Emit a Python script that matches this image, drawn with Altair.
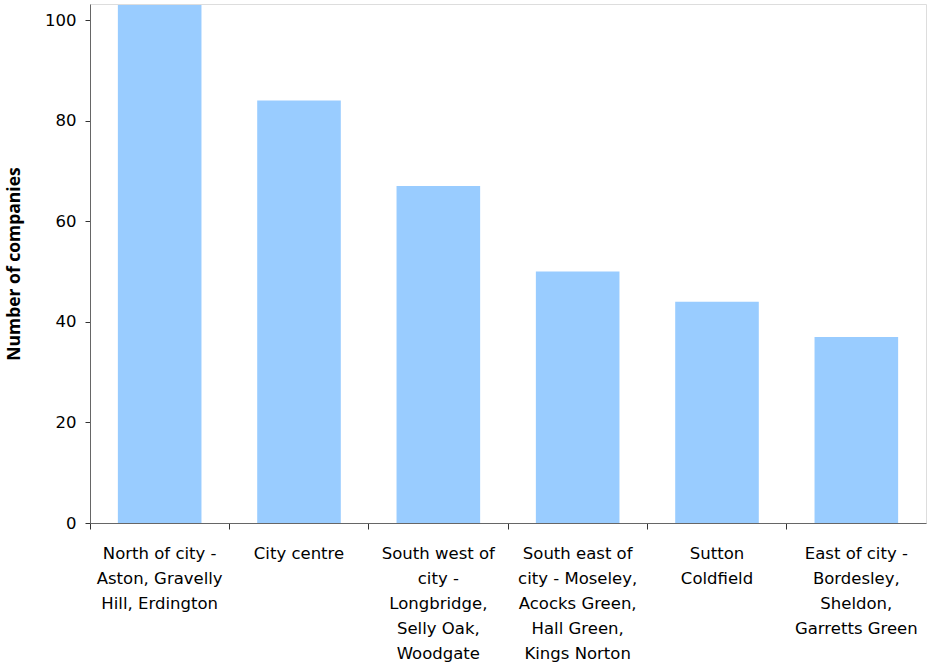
import altair as alt
import pandas as pd

# Companies by area of the city
areas = [
    "North of city -\nAston, Gravelly\nHill, Erdington",
    "City centre",
    "South west of\ncity -\nLongbridge,\nSelly Oak,\nWoodgate",
    "South east of\ncity - Moseley,\nAcocks Green,\nHall Green,\nKings Norton",
    "Sutton\nColdfield",
    "East of city -\nBordesley,\nSheldon,\nGarretts Green",
]
companies = [103, 84, 67, 50, 44, 37]

df = pd.DataFrame({"area": areas, "companies": companies})

FONT = "DejaVu Sans"

x_scale = alt.Scale(paddingInner=0, paddingOuter=0)
y_scale = alt.Scale(domain=[0, 103.2], nice=False)

y_axis = alt.Axis(
    title="Number of companies",
    values=[0, 20, 40, 60, 80, 100],
    grid=False,
    domainColor="#666666",
    tickColor="#333333",
    tickSize=5,
    labelFont=FONT,
    labelFontSize=16.5,
    labelColor="#000000",
    labelPadding=9,
    titleFont="Open Sans",
    titleFontSize=17.5,
    titleFontWeight="bold",
    titleColor="#000000",
    titlePadding=21,
)

bars = alt.Chart(df).mark_bar(color="#99CCFF", width={"band": 0.6}).encode(
    x=alt.X(
        "area:N",
        sort=areas,
        scale=x_scale,
        axis=alt.Axis(
            orient="bottom",
            bandPosition=0,
            labels=False,
            title=None,
            domainColor="#666666",
            tickColor="#333333",
            tickSize=6,
        ),
    ),
    y=alt.Y("companies:Q", scale=y_scale, axis=y_axis),
)

labels = alt.Chart(df).mark_bar(opacity=0).encode(
    x=alt.X(
        "area:N",
        sort=areas,
        scale=x_scale,
        axis=alt.Axis(
            orient="bottom",
            title=None,
            domain=False,
            ticks=False,
            labelAngle=0,
            labelExpr="split(datum.label, '\\n')",
            labelFont=FONT,
            labelFontSize=16.5,
            labelColor="#000000",
            labelLineHeight=25,
            labelBaseline="top",
            labelPadding=22,
            labelLimit=200,
        ),
    ),
    y=alt.Y("companies:Q", scale=y_scale, axis=y_axis),
)

chart = (
    alt.layer(bars, labels)
    .resolve_axis(x="independent")
    .properties(
        width=836,
        height=519,
        autosize=alt.AutoSizeParams(type="none"),
        padding={"left": 90, "top": 4, "right": 1, "bottom": 143},
    )
    .configure_view(strokeWidth=0)
    .configure(background="white")
)

chart.save("out.html", embed_options={"renderer": "svg", "actions": False})
